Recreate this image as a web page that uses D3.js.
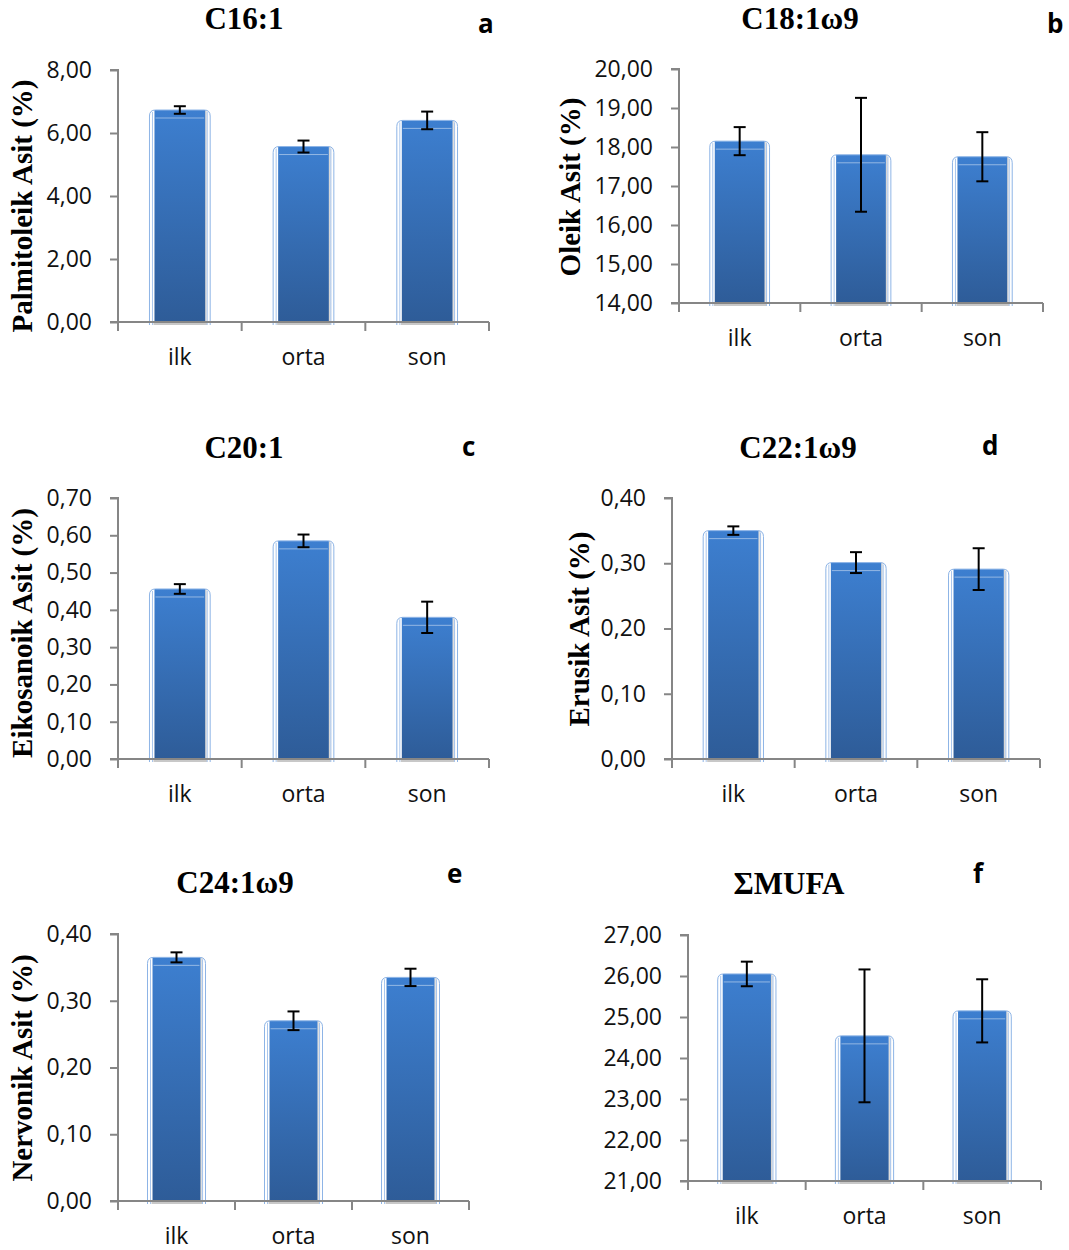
<!DOCTYPE html>
<html>
<head>
<meta charset="utf-8">
<script src="https://cdn.jsdelivr.net/npm/d3@7"></script>
<style>
  html, body { margin: 0; padding: 0; background: #fff; }
  svg { display: block; }
</style>
</head>
<body>
<svg id="chart" width="1069" height="1250"></svg>
<script>
// Sampling stages (shared by every panel)
const categories = ["ilk", "orta", "son"];

// Mean values and standard deviations per fatty acid (%)
const c16Mean = [6.73, 5.57, 6.40];
const c16Sd   = [0.12, 0.19, 0.28];
const c18Mean = [18.15, 17.80, 17.75];
const c18Sd   = [0.36, 1.46, 0.63];
const c20Mean = [0.456, 0.585, 0.380];
const c20Sd   = [0.013, 0.017, 0.042];
const c22Mean = [0.350, 0.301, 0.291];
const c22Sd   = [0.0065, 0.016, 0.032];
const c24Mean = [0.365, 0.270, 0.335];
const c24Sd   = [0.0075, 0.014, 0.013];
const mufaMean = [26.05, 24.54, 25.15];
const mufaSd   = [0.30, 1.62, 0.77];

// Axis tick values
const c16Ticks = [0, 2, 4, 6, 8];
const c18Ticks = [14, 15, 16, 17, 18, 19, 20];
const c20Ticks = [0, 0.1, 0.2, 0.3, 0.4, 0.5, 0.6, 0.7];
const c22Ticks = [0, 0.1, 0.2, 0.3, 0.4];
const c24Ticks = [0, 0.1, 0.2, 0.3, 0.4];
const mufaTicks = [21, 22, 23, 24, 25, 26, 27];

// Titles, panel letters, y-axis labels
const titles = ["C16:1", "C18:1ω9", "C20:1", "C22:1ω9", "C24:1ω9", "ΣMUFA"];
const letters = ["a", "b", "c", "d", "e", "f"];
const yLabels = ["Palmitoleik Asit (%)", "Oleik Asit (%)", "Eikosanoik Asit (%)",
                 "Erusik Asit (%)", "Nervonik Asit (%)", ""];

// Panel geometry
const panels = [
  { mean: c16Mean, sd: c16Sd, ticks: c16Ticks, x0: 118, x1: 489, y0: 70,  y1: 322,
    titleX: 244, titleY: 29, letterX: 478, letterY: 33, labX: 32, labY: 206 },
  { mean: c18Mean, sd: c18Sd, ticks: c18Ticks, x0: 679, x1: 1043, y0: 69, y1: 303,
    titleX: 800, titleY: 29, letterX: 1047, letterY: 33, labX: 580, labY: 187 },
  { mean: c20Mean, sd: c20Sd, ticks: c20Ticks, x0: 118, x1: 489, y0: 498, y1: 759,
    titleX: 244, titleY: 458, letterX: 462, letterY: 456, labX: 32, labY: 633 },
  { mean: c22Mean, sd: c22Sd, ticks: c22Ticks, x0: 672, x1: 1040, y0: 498, y1: 759,
    titleX: 798, titleY: 458, letterX: 982, letterY: 455, labX: 589, labY: 629 },
  { mean: c24Mean, sd: c24Sd, ticks: c24Ticks, x0: 118, x1: 469, y0: 934, y1: 1201,
    titleX: 235, titleY: 893, letterX: 447, letterY: 883, labX: 32, labY: 1068 },
  { mean: mufaMean, sd: mufaSd, ticks: mufaTicks, x0: 688, x1: 1041, y0: 935, y1: 1181,
    titleX: 789, titleY: 894, letterX: 973, letterY: 883, labX: 0, labY: 0 }
];

const locale = d3.formatLocale({ decimal: ",", thousands: ".", grouping: [3], currency: ["", ""] });
const fmt = locale.format(".2f");

const svg = d3.select("#chart");
const defs = svg.append("defs");

// Bar fill: lighter blue at the top, deeper blue at the base
const grad = defs.append("linearGradient")
  .attr("id", "barFill").attr("x1", 0).attr("y1", 0).attr("x2", 0).attr("y2", 1);
grad.append("stop").attr("offset", "0%").attr("stop-color", "#3d7fd0");
grad.append("stop").attr("offset", "100%").attr("stop-color", "#2e5c98");

// Soft grey edge on the right side of the bars
const shade = defs.append("linearGradient")
  .attr("id", "barShade").attr("x1", 0).attr("y1", 0).attr("x2", 1).attr("y2", 0);
shade.append("stop").attr("offset", "0%").attr("stop-color", "#b8b8b8").attr("stop-opacity", 0.8);
shade.append("stop").attr("offset", "100%").attr("stop-color", "#ffffff").attr("stop-opacity", 0);

const axisColor = "#868686";
const sansFont = "'Open Sans', 'DejaVu Sans', sans-serif";
const serifFont = "'Liberation Serif', 'Times New Roman', serif";

panels.forEach((p, i) => {
  const g = svg.append("g");
  const domain = [p.ticks[0], p.ticks[p.ticks.length - 1]];

  const x = d3.scaleBand().domain(categories).range([p.x0, p.x1]).paddingInner(0.59).paddingOuter(0.295);
  const xb = d3.scaleBand().domain(categories).range([p.x0, p.x1]).padding(0);
  const y = d3.scaleLinear().domain(domain).range([p.y1, p.y0]);

  const rows = categories.map((c, k) => ({ cat: c, mean: p.mean[k], sd: p.sd[k] }));

  // Bars
  const bars = g.append("g").selectAll("g").data(rows).join("g");

  bars.append("rect")
    .attr("x", d => x(d.cat) + x.bandwidth())
    .attr("y", d => y(d.mean))
    .attr("width", 4)
    .attr("height", d => y(domain[0]) - y(d.mean))
    .attr("fill", "url(#barShade)");

  bars.append("rect")
    .attr("x", d => x(d.cat) - 1)
    .attr("y", d => y(domain[0]))
    .attr("width", x.bandwidth() + 3)
    .attr("height", 3)
    .attr("fill", "#c8c8c8");

  bars.append("rect")
    .attr("x", d => x(d.cat))
    .attr("y", d => y(d.mean))
    .attr("width", x.bandwidth())
    .attr("height", d => y(domain[0]) - y(d.mean))
    .attr("fill", "url(#barFill)");

  // Highlight line near the top of each bar
  bars.append("line")
    .attr("x1", d => x(d.cat) + 1)
    .attr("x2", d => x(d.cat) + x.bandwidth() - 1)
    .attr("y1", d => y(d.mean) + 8)
    .attr("y2", d => y(d.mean) + 8)
    .attr("stroke", "#ffffff").attr("stroke-opacity", 0.45).attr("stroke-width", 1);

  // Rounded light-blue outline around each bar
  const r = 6;
  bars.append("path")
    .attr("d", d => {
      const l = x(d.cat) - 5, rr = x(d.cat) + x.bandwidth() + 5;
      const t = y(d.mean), b = y(domain[0]) + 3;
      return `M${l},${b} L${l},${t + r} Q${l},${t} ${l + r},${t} L${rr - r},${t} Q${rr},${t} ${rr},${t + r} L${rr},${b}`;
    })
    .attr("fill", "none").attr("stroke", "#8db4e6").attr("stroke-width", 1);
  bars.append("path")
    .attr("d", d => {
      const l = x(d.cat) - 2, rr = x(d.cat) + x.bandwidth() + 2;
      const t = y(d.mean) + 2, b = y(domain[0]) + 3;
      return `M${l},${b} L${l},${t} M${rr},${t} L${rr},${b}`;
    })
    .attr("fill", "none").attr("stroke", "#a9c6ec").attr("stroke-width", 1);

  // Error bars (mean ± sd)
  const cx = d => x(d.cat) + x.bandwidth() / 2;
  const eb = g.append("g").attr("stroke", "#000").attr("stroke-width", 2).attr("fill", "none");
  eb.selectAll("line.v").data(rows).join("line").attr("class", "v")
    .attr("x1", cx).attr("x2", cx)
    .attr("y1", d => y(d.mean + d.sd)).attr("y2", d => y(d.mean - d.sd));
  eb.selectAll("line.t").data(rows).join("line").attr("class", "t")
    .attr("x1", d => cx(d) - 6).attr("x2", d => cx(d) + 6)
    .attr("y1", d => y(d.mean + d.sd)).attr("y2", d => y(d.mean + d.sd));
  eb.selectAll("line.b").data(rows).join("line").attr("class", "b")
    .attr("x1", d => cx(d) - 6).attr("x2", d => cx(d) + 6)
    .attr("y1", d => y(d.mean - d.sd)).attr("y2", d => y(d.mean - d.sd));

  // Y axis
  const yAxis = d3.axisLeft(y).tickValues(p.ticks).tickFormat(fmt).tickSize(8).tickPadding(18);
  const ya = g.append("g").attr("transform", `translate(${p.x0},0)`).call(yAxis);
  ya.select(".domain").attr("stroke", axisColor).attr("stroke-width", 2).attr("d", `M-8,${p.y0}H0V${p.y1}`);
  ya.selectAll(".tick line").attr("stroke", axisColor).attr("stroke-width", 2);
  ya.selectAll(".tick text").attr("font-family", sansFont).attr("font-size", 23).attr("fill", "#111");

  // X axis: tick marks at the category boundaries
  const xa = g.append("g").attr("transform", `translate(0,${p.y1})`);
  xa.append("line").attr("x1", p.x0 - 8).attr("x2", p.x1).attr("y1", 0).attr("y2", 0)
    .attr("stroke", axisColor).attr("stroke-width", 2);
  const bounds = categories.map(c => xb(c)).concat([p.x1]);
  xa.selectAll("line.tk").data(bounds).join("line").attr("class", "tk")
    .attr("x1", d => d).attr("x2", d => d).attr("y1", 0).attr("y2", 9)
    .attr("stroke", axisColor).attr("stroke-width", 2);
  xa.selectAll("text").data(categories).join("text")
    .attr("x", c => xb(c) + xb.bandwidth() / 2)
    .attr("y", 43)
    .attr("text-anchor", "middle")
    .attr("font-family", sansFont).attr("font-size", 23).attr("fill", "#111")
    .text(c => c);

  // Title and panel letter
  g.append("text").attr("x", p.titleX).attr("y", p.titleY).attr("text-anchor", "middle")
    .attr("font-family", serifFont).attr("font-weight", "bold").attr("font-size", 31)
    .text(titles[i]);
  g.append("text").attr("x", p.letterX).attr("y", p.letterY)
    .attr("font-family", sansFont).attr("font-weight", "bold").attr("font-size", 26)
    .text(letters[i]);

  // Y-axis label
  if (yLabels[i]) {
    g.append("text")
      .attr("transform", `translate(${p.labX},${p.labY}) rotate(-90)`)
      .attr("text-anchor", "middle")
      .attr("font-family", serifFont).attr("font-weight", "bold").attr("font-size", 29)
      .text(yLabels[i]);
  }
});
</script>
</body>
</html>
